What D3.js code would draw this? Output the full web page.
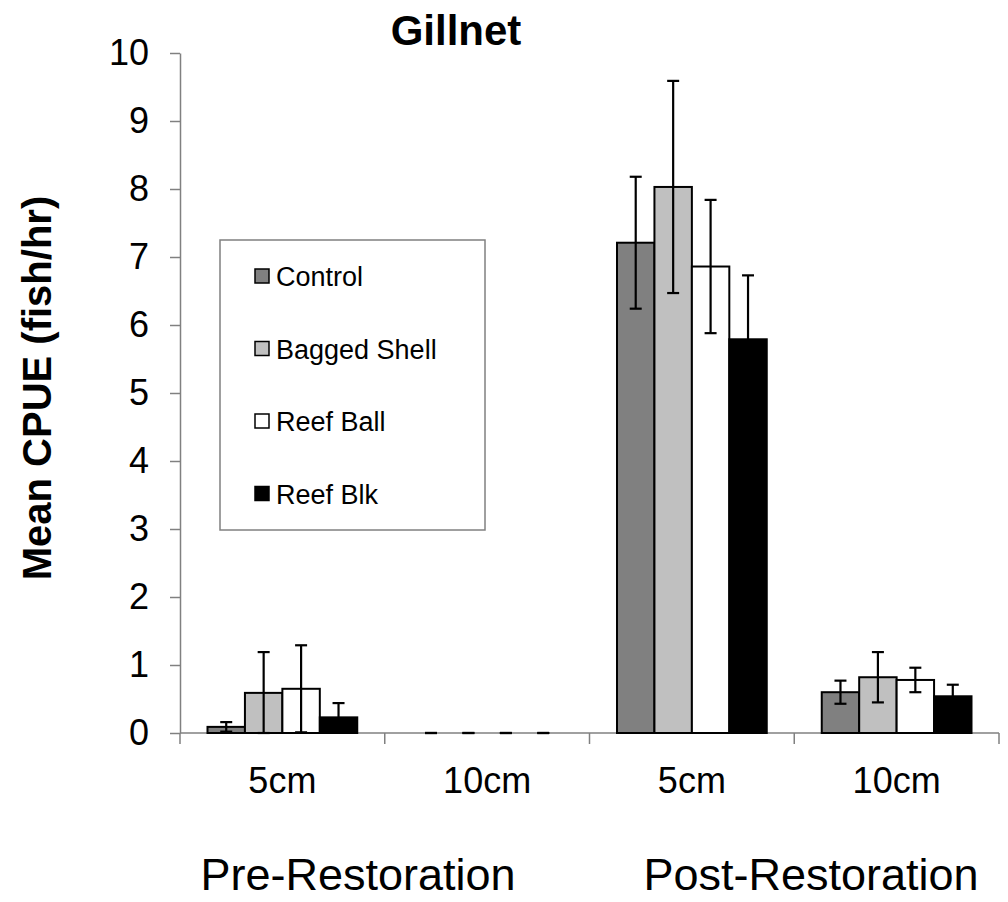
<!DOCTYPE html>
<html>
<head>
<meta charset="utf-8">
<title>Gillnet</title>
<script src="https://cdnjs.cloudflare.com/ajax/libs/d3/7.8.5/d3.min.js"></script>
<style>
	body { margin: 0; background: #fff; }
	svg text { font-family: "Liberation Sans", Arial, sans-serif; fill: #000; }
</style>
</head>
<body>
<svg id="chart" width="1008" height="902"></svg>
<script>

// data
var categories = ["5cm", "10cm", "5cm", "10cm"];
var periods = ["Pre-Restoration", "Post-Restoration"];
var seriesNames = ["Control", "Bagged Shell", "Reef Ball", "Reef Blk"];
var seriesColors = ["#808080", "#c0c0c0", "#ffffff", "#000000"];

var control = [0.09, 0, 7.21, 0.60];
var controlErr = [0.07, 0, 0.97, 0.17];
var baggedShell = [0.59, 0, 8.03, 0.82];
var baggedShellErr = [0.60, 0, 1.56, 0.37];
var reefBall = [0.65, 0, 6.86, 0.78];
var reefBallErr = [0.64, 0, 0.98, 0.18];
var reefBlk = [0.23, 0, 5.79, 0.54];
var reefBlkErr = [0.21, 0, 0.94, 0.17];

var yTicks = [0, 1, 2, 3, 4, 5, 6, 7, 8, 9, 10];

var values = [control, baggedShell, reefBall, reefBlk];
var errors = [controlErr, baggedShellErr, reefBallErr, reefBlkErr];

// flatten into one row per bar
var rows = [];
categories.forEach(function (c, i) {
	seriesNames.forEach(function (s, j) {
		rows.push({ cat: i, series: j, value: values[j][i], err: errors[j][i] });
	});
});

var svg = d3.select("#chart");

var x = d3.scaleBand().domain(d3.range(categories.length)).range([180, 999]);
var x1 = d3.scaleBand().domain(d3.range(seriesNames.length))
	.range([27.5, x.bandwidth() - 27.5]);
var y = d3.scaleLinear().domain([0, 10]).range([733, 53]);

// y axis
var yAxis = svg.append("g")
	.attr("transform", "translate(180,0)")
	.call(d3.axisLeft(y).tickValues(yTicks).tickSize(10).tickPadding(21).tickSizeOuter(0));
yAxis.select(".domain").attr("stroke", "#808080").attr("stroke-width", 1.5);
yAxis.selectAll(".tick line").attr("stroke", "#808080").attr("stroke-width", 1.5);
yAxis.selectAll(".tick text").style("font-size", "36px").attr("fill", "#000");

// x axis, ticks sit on the category boundaries
var xAxisG = svg.append("g").attr("transform", "translate(0," + y(0) + ")");
xAxisG.append("line")
	.attr("x1", x.range()[0]).attr("x2", x.range()[1])
	.attr("stroke", "#808080").attr("stroke-width", 1.5);
xAxisG.selectAll(".xtick")
	.data(d3.range(categories.length + 1))
	.enter().append("line")
	.attr("class", "xtick")
	.attr("x1", function (d) { return x.range()[0] + d * x.step(); })
	.attr("x2", function (d) { return x.range()[0] + d * x.step(); })
	.attr("y1", 0).attr("y2", 11)
	.attr("stroke", "#808080").attr("stroke-width", 1.5);
xAxisG.selectAll(".xlabel")
	.data(categories)
	.enter().append("text")
	.attr("class", "xlabel")
	.attr("x", function (d, i) { return x(i) + x.bandwidth() / 2; })
	.attr("y", 60)
	.attr("text-anchor", "middle")
	.style("font-size", "36px")
	.text(function (d) { return d; });

// period labels under the categories
var periodX = [358, 811];
svg.selectAll(".period")
	.data(periods)
	.enter().append("text")
	.attr("class", "period")
	.attr("x", function (d, i) { return periodX[i]; })
	.attr("y", 890)
	.attr("text-anchor", "middle")
	.style("font-size", "45px")
	.text(function (d) { return d; });

// bars
svg.append("g").selectAll("rect")
	.data(rows.filter(function (r) { return r.value > 0; }))
	.enter().append("rect")
	.attr("x", function (r) { return x(r.cat) + x1(r.series); })
	.attr("width", x1.bandwidth())
	.attr("y", function (r) { return y(r.value); })
	.attr("height", function (r) { return y(0) - y(r.value); })
	.attr("fill", function (r) { return seriesColors[r.series]; })
	.attr("stroke", "#000")
	.attr("stroke-width", 2);

// error bars
var eb = svg.append("g").selectAll("g")
	.data(rows)
	.enter().append("g")
	.attr("transform", function (r) {
		return "translate(" + (x(r.cat) + x1(r.series) + x1.bandwidth() / 2) + ",0)";
	})
	.attr("stroke", "#000")
	.attr("stroke-width", 2.2);
eb.append("line")
	.attr("y1", function (r) { return y(r.value + r.err); })
	.attr("y2", function (r) { return y(Math.max(0, r.value - r.err)); });
eb.append("line")
	.attr("x1", -6).attr("x2", 6)
	.attr("y1", function (r) { return y(r.value + r.err); })
	.attr("y2", function (r) { return y(r.value + r.err); });
eb.append("line")
	.attr("x1", -6).attr("x2", 6)
	.attr("y1", function (r) { return y(Math.max(0, r.value - r.err)); })
	.attr("y2", function (r) { return y(Math.max(0, r.value - r.err)); });

// title
svg.append("text")
	.attr("x", 456).attr("y", 45)
	.attr("text-anchor", "middle")
	.style("font-size", "42px").style("font-weight", "bold")
	.text("Gillnet");

// y axis title
svg.append("text")
	.attr("transform", "translate(51,388) rotate(-90)")
	.attr("text-anchor", "middle")
	.style("font-size", "40px").style("font-weight", "bold")
	.text("Mean CPUE (fish/hr)");

// legend
var legend = svg.append("g").attr("transform", "translate(220,240)");
legend.append("rect")
	.attr("width", 265).attr("height", 290)
	.attr("fill", "#fff").attr("stroke", "#808080").attr("stroke-width", 1.5);
var item = legend.selectAll(".item")
	.data(seriesNames)
	.enter().append("g")
	.attr("class", "item")
	.attr("transform", function (d, i) { return "translate(35," + (36 + i * 72.5) + ")"; });
item.append("rect")
	.attr("x", 0).attr("y", -7).attr("width", 14).attr("height", 14)
	.attr("fill", function (d, i) { return seriesColors[i]; })
	.attr("stroke", "#000").attr("stroke-width", 1.5);
item.append("text")
	.attr("x", 21).attr("y", 10)
	.style("font-size", "27px")
	.text(function (d) { return d; });

</script>
</body>
</html>
